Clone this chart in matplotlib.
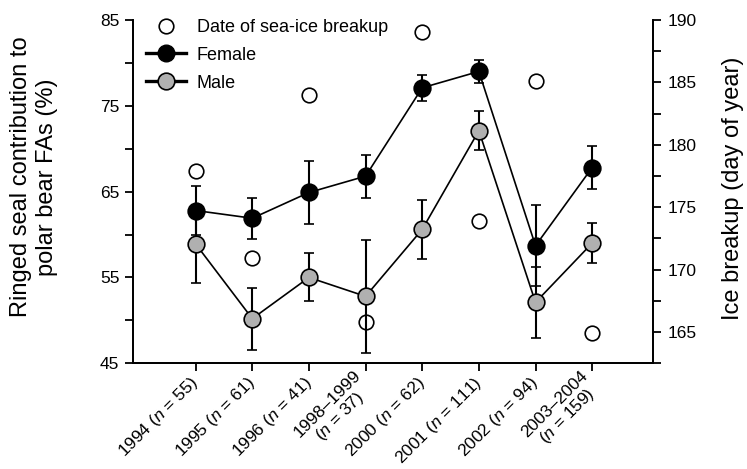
import numpy as np
import matplotlib
matplotlib.use("Agg")
import matplotlib.pyplot as plt
from matplotlib.ticker import MultipleLocator, FixedLocator
from matplotlib.lines import Line2D

plt.rcParams['font.family'] = ['Liberation Sans', 'DejaVu Sans']
plt.rcParams['mathtext.fontset'] = 'custom'
plt.rcParams['mathtext.rm'] = 'Liberation Sans'
plt.rcParams['mathtext.it'] = 'Liberation Sans:italic'

# ── Data ──────────────────────────────────────────────
periods = ['1994 ($n$ = 55)', '1995 ($n$ = 61)', '1996 ($n$ = 41)',
           '1998–1999\n($n$ = 37)', '2000 ($n$ = 62)', '2001 ($n$ = 111)',
           '2002 ($n$ = 94)', '2003–2004\n($n$ = 159)']

female = [62.8, 61.9, 64.9, 66.8, 77.1, 79.0, 58.7, 67.8]
female_err = [2.9, 2.4, 3.7, 2.5, 1.5, 1.3, 4.7, 2.5]

male = [58.9, 50.2, 55.0, 52.8, 60.6, 72.1, 52.1, 59.0]
male_err = [4.6, 3.6, 2.8, 6.6, 3.4, 2.3, 4.1, 2.3]

# date of sea-ice breakup (day of year), right axis
ice_breakup = [177.9, 170.9, 184.0, 165.8, 189.0, 173.9, 185.1, 164.9]

left_ticks = [45, 55, 65, 75, 85]
right_ticks = [165, 170, 175, 180, 185, 190]

x = np.arange(len(periods))

fig = plt.figure(figsize=(7.47, 4.69), dpi=100)
ax = fig.add_axes([0.1785, 0.2254, 0.6961, 0.732])

# ── Male / Female series with error bars ──────────────
ax.errorbar(x, male, yerr=male_err, color='black', lw=1.2,
            elinewidth=1.5, capsize=3.6, capthick=1.3,
            marker='o', markersize=12, markerfacecolor='#b0b0b0',
            markeredgecolor='black', markeredgewidth=1.2, zorder=2)
ax.errorbar(x, female, yerr=female_err, color='black', lw=1.2,
            elinewidth=1.5, capsize=3.6, capthick=1.3,
            marker='o', markersize=12, markerfacecolor='black',
            markeredgecolor='black', markeredgewidth=1.2, zorder=3)

ax.set_xlim(-1.1, 8.08)
ax.set_ylim(45, 85)
ax.yaxis.set_major_locator(FixedLocator(left_ticks))
ax.yaxis.set_minor_locator(MultipleLocator(5))
ax.set_xticks(x)
ax.set_xticklabels(periods, rotation=45, ha='right', va='center',
                   rotation_mode='anchor', multialignment='center',
                   linespacing=1.0)

ax.set_ylabel('Ringed seal contribution to\npolar bear FAs (%)',
              fontsize=17, linespacing=1.25)
ax.yaxis.set_label_coords(-0.145, 0.543)

# ── Sea-ice breakup on the right axis ─────────────────
ax2 = ax.twinx()
ax2.plot(x, ice_breakup, linestyle='none', marker='o', markersize=10.5,
         markerfacecolor='none', markeredgecolor='black',
         markeredgewidth=1.2)
ax2.set_ylim(162.5, 190)
ax2.yaxis.set_major_locator(FixedLocator(right_ticks))
ax2.yaxis.set_minor_locator(MultipleLocator(2.5))
ax2.set_ylabel('Ice breakup (day of year)', fontsize=17, rotation=90)
ax2.yaxis.set_label_coords(1.133, 0.509)

for a in (ax, ax2):
    a.spines['top'].set_visible(False)
    for s in ('left', 'right', 'bottom'):
        a.spines[s].set_linewidth(1.3)
    a.tick_params(which='both', direction='out', length=6, width=1.3,
                  labelsize=12.5, pad=4)
ax.tick_params(axis='x', pad=6, labelsize=12.5)

# ── Legend ─────────────────────────────────────────────
handles = [
    Line2D([], [], linestyle='none', marker='o', markersize=10.5,
           markerfacecolor='none', markeredgecolor='black', markeredgewidth=1.2),
    Line2D([], [], color='black', lw=2.4, marker='o', markersize=12,
           markerfacecolor='black', markeredgecolor='black'),
    Line2D([], [], color='black', lw=2.4, marker='o', markersize=12,
           markerfacecolor='#b0b0b0', markeredgecolor='black', markeredgewidth=1.2),
]
labels = ['Date of sea-ice breakup', 'Female', 'Male']
ax2.legend(handles, labels, loc='upper left', bbox_to_anchor=(0.0, 1.04),
           frameon=False, fontsize=13, handlelength=2.2, handletextpad=0.6,
           labelspacing=0.6, borderaxespad=0.3)

plt.savefig('out.png', dpi=100)
